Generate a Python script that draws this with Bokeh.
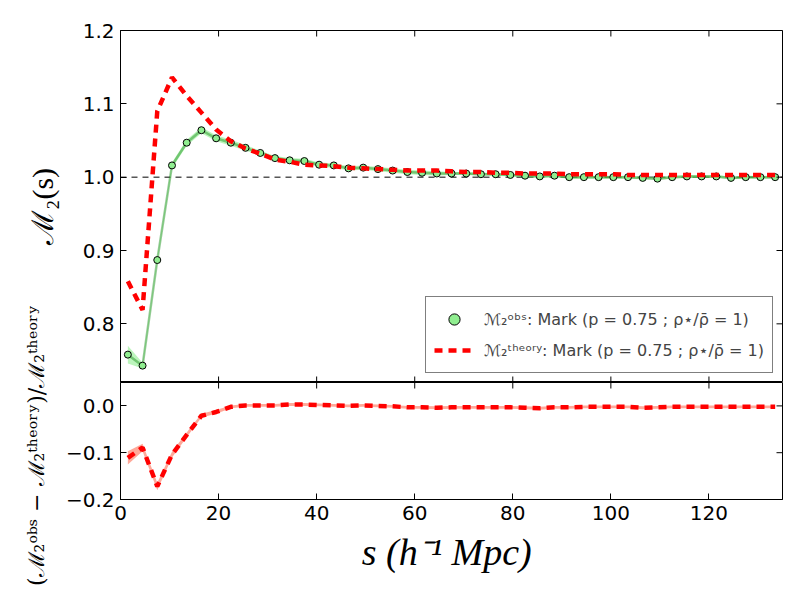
import math
from bokeh.plotting import figure
from bokeh.models import (Range1d, FixedTicker, Span, Legend, LegendItem,
                          Label, CustomJSTickFormatter)
from bokeh.layouts import row, column
from bokeh.embed import file_html
from bokeh.resources import INLINE

# ---------------- data ----------------
s_vals = [1.5, 4.5, 7.5, 10.5, 13.5, 16.5, 19.5, 22.5, 25.5, 28.5, 31.5, 34.5, 37.5,
          40.5, 43.5, 46.5, 49.5, 52.5, 55.5, 58.5, 61.5, 64.5, 67.5, 70.5, 73.5, 76.5,
          79.5, 82.5, 85.5, 88.5, 91.5, 94.5, 97.5, 100.5, 103.5, 106.5, 109.5, 112.5,
          115.5, 118.5, 121.5, 124.5, 127.5, 130.5, 133.5]

m2_obs = [0.758, 0.743, 0.887, 1.016, 1.047, 1.064, 1.053, 1.047, 1.040, 1.033, 1.026,
          1.023, 1.022, 1.017, 1.016, 1.012, 1.013, 1.011, 1.009, 1.007, 1.006, 1.005,
          1.005, 1.005, 1.004, 1.004, 1.003, 1.002, 1.001, 1.002, 1.000, 1.000, 1.000,
          1.000, 1.000, 0.999, 0.998, 1.000, 1.001, 1.001, 1.001, 0.999, 1.000, 1.000,
          1.000]

m2_obs_err = [0.012, 0.004, 0.003, 0.004, 0.004, 0.004, 0.004, 0.004, 0.004, 0.003,
              0.003, 0.003, 0.003, 0.003, 0.003, 0.003, 0.003, 0.003, 0.003, 0.003,
              0.003, 0.003, 0.002, 0.002, 0.002, 0.002, 0.002, 0.002, 0.002, 0.002,
              0.002, 0.002, 0.002, 0.002, 0.002, 0.002, 0.002, 0.002, 0.002, 0.002,
              0.002, 0.002, 0.002, 0.002, 0.002]

m2_theory = [0.858, 0.819, 1.090, 1.136, 1.111, 1.088, 1.065, 1.049, 1.039, 1.032,
             1.024, 1.021, 1.017, 1.016, 1.015, 1.013, 1.012, 1.011, 1.010, 1.009,
             1.009, 1.009, 1.008, 1.007, 1.007, 1.006, 1.006, 1.005, 1.005, 1.005,
             1.004, 1.004, 1.004, 1.004, 1.003, 1.003, 1.003, 1.003, 1.003, 1.003,
             1.003, 1.003, 1.003, 1.003, 1.003]

resid = [-0.111, -0.089, -0.172, -0.104, -0.062, -0.021, -0.013, -0.002, 0.001, 0.001,
         0.001, 0.003, 0.003, 0.002, 0.001, 0.000, 0.001, 0.000, -0.001, -0.003,
         -0.003, -0.004, -0.003, -0.003, -0.003, -0.003, -0.003, -0.004, -0.005, -0.003,
         -0.003, -0.002, -0.002, -0.002, -0.002, -0.004, -0.003, -0.002, -0.002, -0.002,
         -0.002, -0.002, -0.002, -0.002, -0.002]

resid_err = [0.014, 0.008, 0.008, 0.006, 0.005, 0.004, 0.004, 0.003, 0.003, 0.003,
             0.003, 0.003, 0.003, 0.003, 0.003, 0.003, 0.003, 0.003, 0.003, 0.003,
             0.003, 0.003, 0.003, 0.003, 0.003, 0.003, 0.003, 0.003, 0.003, 0.003,
             0.003, 0.003, 0.003, 0.003, 0.003, 0.003, 0.003, 0.003, 0.003, 0.003,
             0.003, 0.003, 0.003, 0.003, 0.003]

x_ticks = [0, 20, 40, 60, 80, 100, 120]
y_ticks_top = [0.8, 0.9, 1.0, 1.1, 1.2]
y_ticks_bottom = [-0.2, -0.1, 0.0]

label_obs = "ℳ₂ᵒᵇˢ: Mark (p = 0.75 ; ρ⋆/ρ̄ = 1)"
label_theory = "ℳ₂ᵗʰᵉᵒʳʸ: Mark (p = 0.75 ; ρ⋆/ρ̄ = 1)"
ylabel_top = "ℳ₂(s)"
ylabel_bottom = "(ℳ₂ᵒᵇˢ − ℳ₂ᵗʰᵉᵒʳʸ)/ℳ₂ᵗʰᵉᵒʳʸ"
xlabel = "s (h⁻¹  Mpc)"

obs_lo = [o - e for o, e in zip(m2_obs, m2_obs_err)]
obs_hi = [o + e for o, e in zip(m2_obs, m2_obs_err)]
res_lo = [r - e for r, e in zip(resid, resid_err)]
res_hi = [r + e for r, e in zip(resid, resid_err)]

TICK_FONT = "DejaVu Sans"
TICK_SIZE = "20px"
FMT = CustomJSTickFormatter(code="return tick.toFixed(1).replace('-', '\u2212');")


def style_axis(ax, ticks):
    ax.ticker = FixedTicker(ticks=ticks)
    ax.minor_tick_line_color = None
    ax.major_tick_in = 6
    ax.major_tick_out = 0
    ax.major_tick_line_color = "black"
    ax.major_tick_line_width = 1
    ax.axis_line_color = "black"
    ax.axis_line_width = 1
    ax.major_label_text_font = TICK_FONT
    ax.major_label_text_font_size = TICK_SIZE
    ax.major_label_text_color = "black"
    ax.major_label_standoff = 6


def make_fig(height, y0, y1, top, bottom, with_xaxis):
    f = figure(width=730, height=height, x_range=Range1d(0, 135), y_range=Range1d(y0, y1),
               toolbar_location=None, output_backend="svg",
               x_axis_location="below" if with_xaxis else None,
               min_border_left=56, min_border_right=10,
               min_border_top=top, min_border_bottom=bottom)
    f.grid.visible = False
    f.outline_line_color = "black"
    f.outline_line_width = 1
    f.background_fill_color = "white"
    f.border_fill_color = "white"
    return f


def inner_ticks(f, xs, ys, vertical):
    # short inward tick marks on the frame edges (half of each dash is clipped by the frame)
    f.scatter(x=xs, y=ys, marker="dash", size=12, angle=math.pi / 2 if vertical else 0.0,
              line_color="black", line_width=1, fill_color=None)


# ---------------- upper panel ----------------
p1 = make_fig(382, 0.72, 1.2, 30, 0, False)
style_axis(p1.yaxis[0], y_ticks_top)
p1.yaxis[0].formatter = FMT

p1.add_layout(Span(location=1.0, dimension="width", line_color="black", line_width=1,
                   line_dash="6 5", level="underlay"))

p1.varea(x=s_vals, y1=obs_lo, y2=obs_hi, fill_color="#90EE90", fill_alpha=0.6)
p1.line(x=s_vals, y=m2_obs, line_color="green", line_alpha=0.4, line_width=2.5)
r_pts = p1.scatter(x=s_vals, y=m2_obs, size=7, fill_color="#90EE90", line_color="black",
                   line_width=1)
r_th = p1.line(x=s_vals, y=m2_theory, line_color="red", line_width=4.5, line_dash="8 6")

inner_ticks(p1, x_ticks, [p1.y_range.end] * len(x_ticks), True)
inner_ticks(p1, x_ticks, [p1.y_range.start] * len(x_ticks), True)
inner_ticks(p1, [p1.x_range.end] * len(y_ticks_top), y_ticks_top, False)

legend = Legend(items=[LegendItem(label=label_obs, renderers=[r_pts]),
                       LegendItem(label=label_theory, renderers=[r_th])],
                location="bottom_right", margin=9, padding=8, spacing=3,
                label_height=28, glyph_height=28, glyph_width=40, label_standoff=10,
                label_text_font="DejaVu Sans", label_text_font_size="16px",
                border_line_color="black", border_line_width=1,
                background_fill_color="white", background_fill_alpha=1.0)
p1.add_layout(legend)

# ---------------- lower panel ----------------
p2 = make_fig(210, -0.2, 0.05, 0, 93, True)
style_axis(p2.yaxis[0], y_ticks_bottom)
p2.yaxis[0].formatter = FMT
style_axis(p2.xaxis[0], x_ticks)
p2.xaxis[0].axis_label = xlabel
p2.xaxis[0].axis_label_text_font = "Liberation Serif"
p2.xaxis[0].axis_label_text_font_style = "italic"
p2.xaxis[0].axis_label_text_font_size = "38px"
p2.xaxis[0].axis_label_standoff = 8
p2.xaxis[0].axis_label_text_color = "black"

p2.varea(x=s_vals, y1=res_lo, y2=res_hi, fill_color="#FF6347", fill_alpha=0.55)
p2.line(x=s_vals, y=resid, line_color="red", line_width=4.5, line_dash="8 6")

inner_ticks(p2, x_ticks, [p2.y_range.end] * len(x_ticks), True)
inner_ticks(p2, [p2.x_range.end] * len(y_ticks_bottom), y_ticks_bottom, False)

# ---------------- y-axis titles (shared column on the left) ----------------
lab = figure(width=62, height=592, toolbar_location=None, output_backend="svg",
             min_border=0, x_axis_location=None, y_axis_location=None)
lab.grid.visible = False
lab.outline_line_color = None
lab.border_fill_color = "white"
lab.background_fill_color = "white"
lab.add_layout(Label(x=42, y=386, x_units="screen", y_units="screen", text=ylabel_top,
                     angle=math.pi / 2, text_align="center", text_baseline="middle",
                     text_font="Liberation Serif", text_font_size="30px",
                     text_color="black"))
lab.add_layout(Label(x=36, y=147, x_units="screen", y_units="screen", text=ylabel_bottom,
                     angle=math.pi / 2, text_align="center", text_baseline="middle",
                     text_font="DejaVu Serif", text_font_size="22px", text_color="black"))

layout = row(lab, column(p1, p2))

with open("out.html", "w") as fh:
    fh.write(file_html(layout, INLINE))
